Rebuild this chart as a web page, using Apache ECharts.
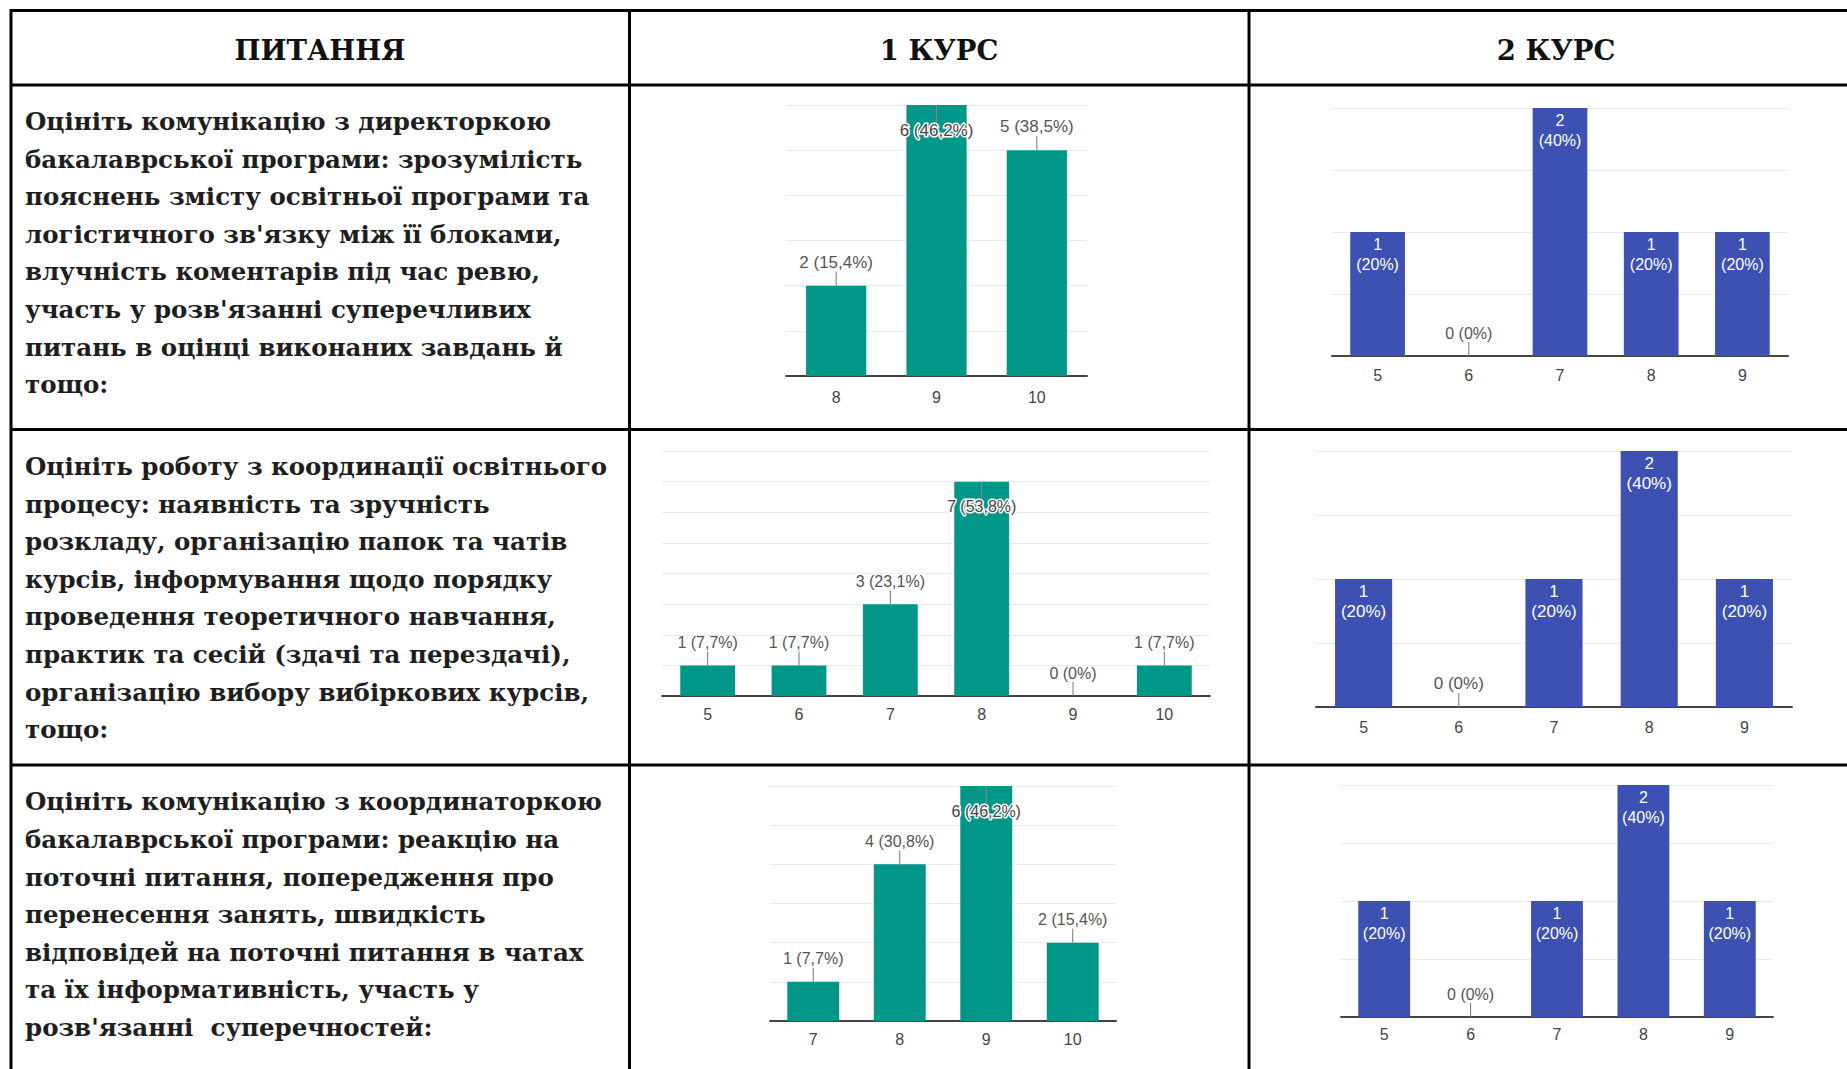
<!DOCTYPE html>
<html><head><meta charset="utf-8">
<script src="https://cdn.jsdelivr.net/npm/echarts@6/dist/echarts.min.js"></script>
<style>html,body{margin:0;padding:0;background:#fff;}#c{width:1847px;height:1069px;}</style>
</head><body><div id="c"></div>
<script>
// ---------- DATA ----------
const headers = ['ПИТАННЯ', '1 КУРС', '2 КУРС'];

const question1Lines = [
  'Оцініть комунікацію з директоркою',
  'бакалаврської програми: зрозумілість',
  'пояснень змісту освітньої програми та',
  "логістичного зв'язку між її блоками,",
  'влучність коментарів під час ревю,',
  "участь у розв'язанні суперечливих",
  'питань в оцінці виконаних завдань й',
  'тощо:'
];
const question2Lines = [
  'Оцініть роботу з координації освітнього',
  'процесу: наявність та зручність',
  'розкладу, організацію папок та чатів',
  'курсів, інформування щодо порядку',
  'проведення теоретичного навчання,',
  'практик та сесій (здачі та перездачі),',
  'організацію вибору вибіркових курсів,',
  'тощо:'
];
const question3Lines = [
  'Оцініть комунікацію з координаторкою',
  'бакалаврської програми: реакцію на',
  'поточні питання, попередження про',
  'перенесення занять, швидкість',
  'відповідей на поточні питання в чатах',
  'та їх інформативність, участь у',
  "розв'язанні  суперечностей:"
];

// Q1
const q1y1Categories = ['8', '9', '10'];
const q1y1Counts = [2, 6, 5];
const q1y1Percents = ['15,4%', '46,2%', '38,5%'];
const q1y1AxisMax = 6, q1y1AxisStep = 1;

const q1y2Categories = ['5', '6', '7', '8', '9'];
const q1y2Counts = [1, 0, 2, 1, 1];
const q1y2Percents = ['20%', '0%', '40%', '20%', '20%'];
const q1y2AxisMax = 2, q1y2AxisStep = 0.5;

// Q2
const q2y1Categories = ['5', '6', '7', '8', '9', '10'];
const q2y1Counts = [1, 1, 3, 7, 0, 1];
const q2y1Percents = ['7,7%', '7,7%', '23,1%', '53,8%', '0%', '7,7%'];
const q2y1AxisMax = 8, q2y1AxisStep = 1;

const q2y2Categories = ['5', '6', '7', '8', '9'];
const q2y2Counts = [1, 0, 1, 2, 1];
const q2y2Percents = ['20%', '0%', '20%', '40%', '20%'];
const q2y2AxisMax = 2, q2y2AxisStep = 0.5;

// Q3
const q3y1Categories = ['7', '8', '9', '10'];
const q3y1Counts = [1, 4, 6, 2];
const q3y1Percents = ['7,7%', '30,8%', '46,2%', '15,4%'];
const q3y1AxisMax = 6, q3y1AxisStep = 1;

const q3y2Categories = ['5', '6', '7', '8', '9'];
const q3y2Counts = [1, 0, 1, 2, 1];
const q3y2Percents = ['20%', '0%', '20%', '40%', '20%'];
const q3y2AxisMax = 2, q3y2AxisStep = 0.5;

// ---------- LAYOUT / STYLE ----------
const TEAL = '#009688';
const BLUE = '#3d51b3';
const SANS = '"Liberation Sans", Arial, sans-serif';
const SERIF = '"DejaVu Serif", serif';

const panels = [
  {cats: q1y1Categories, vals: q1y1Counts, pcts: q1y1Percents, max: q1y1AxisMax, step: q1y1AxisStep,
   color: TEAL, mode: 'outside', grid: {left: 786, top: 105, width: 301, height: 271}, fs: 17, xMargin: 13},
  {cats: q1y2Categories, vals: q1y2Counts, pcts: q1y2Percents, max: q1y2AxisMax, step: q1y2AxisStep,
   color: BLUE, mode: 'inside', grid: {left: 1332, top: 108, width: 456, height: 248}, fs: 16, xMargin: 11},
  {cats: q2y1Categories, vals: q2y1Counts, pcts: q2y1Percents, max: q2y1AxisMax, step: q2y1AxisStep,
   color: TEAL, mode: 'outside', grid: {left: 662, top: 451, width: 548, height: 245}, fs: 16, xMargin: 10},
  {cats: q2y2Categories, vals: q2y2Counts, pcts: q2y2Percents, max: q2y2AxisMax, step: q2y2AxisStep,
   color: BLUE, mode: 'inside', grid: {left: 1316, top: 451, width: 476, height: 256}, fs: 17, xMargin: 12},
  {cats: q3y1Categories, vals: q3y1Counts, pcts: q3y1Percents, max: q3y1AxisMax, step: q3y1AxisStep,
   color: TEAL, mode: 'outside', grid: {left: 770, top: 786, width: 346, height: 235}, fs: 16, xMargin: 10},
  {cats: q3y2Categories, vals: q3y2Counts, pcts: q3y2Percents, max: q3y2AxisMax, step: q3y2AxisStep,
   color: BLUE, mode: 'inside', grid: {left: 1341, top: 785, width: 432, height: 232}, fs: 16, xMargin: 9}
];

const grids = [], xAxes = [], yAxes = [], series = [];

panels.forEach((p, k) => {
  const tallest = Math.max.apply(null, p.vals);
  grids.push(Object.assign({containLabel: false}, p.grid));
  xAxes.push({
    type: 'category', gridIndex: k, data: p.cats,
    axisLine: {show: true, lineStyle: {color: '#444', width: 2}},
    axisTick: {show: false},
    axisLabel: {color: '#444', fontSize: 16, fontFamily: SANS, margin: p.xMargin},
    splitLine: {show: false}
  });
  yAxes.push({
    type: 'value', gridIndex: k, min: 0, max: p.max, interval: p.step,
    axisLine: {show: false}, axisTick: {show: false}, axisLabel: {show: false},
    splitLine: {show: true, lineStyle: {color: '#ebebeb', width: 1}}
  });

  const data = p.vals.map((v, i) => {
    let label;
    if (p.mode === 'outside') {
      if (v === tallest) {
        label = {show: true, position: 'insideTop', distance: 17, color: '#444',
          textBorderColor: '#fff', textBorderWidth: 3,
          fontSize: p.fs, fontFamily: SANS, formatter: v + ' (' + p.pcts[i] + ')'};
      } else {
        label = {show: true, position: 'top', distance: 15, color: '#555',
          fontSize: p.fs, fontFamily: SANS, formatter: v + ' (' + p.pcts[i] + ')'};
      }
    } else {
      if (v === 0) {
        label = {show: true, position: 'top', distance: 15, color: '#555',
          fontSize: p.fs, fontFamily: SANS, formatter: v + ' (' + p.pcts[i] + ')'};
      } else {
        label = {show: true, position: 'insideTop', distance: 2, color: '#fff',
          fontSize: p.fs, lineHeight: 20, fontFamily: SANS, align: 'center',
          formatter: v + '\n(' + p.pcts[i] + ')'};
      }
    }
    return {value: v, label: label};
  });

  series.push({
    type: 'bar', xAxisIndex: k, yAxisIndex: k, data: data,
    barWidth: '60%', itemStyle: {color: p.color}, silent: true, animation: false
  });

  // leader lines from bar end to its label
  const leaders = [];
  p.vals.forEach((v, i) => {
    if (p.mode === 'outside') {
      leaders.push([i, v, v === tallest ? 1 : -1]);
    } else if (v === 0) {
      leaders.push([i, v, -1]);
    }
  });
  series.push({
    type: 'custom', xAxisIndex: k, yAxisIndex: k, data: leaders, z: 5, silent: true, animation: false,
    renderItem: function (params, api) {
      const pt = api.coord([api.value(0), api.value(1)]);
      const dir = api.value(2);
      const len = dir > 0 ? 18 : 14;
      return {type: 'line', shape: {x1: pt[0], y1: pt[1], x2: pt[0], y2: pt[1] + dir * len},
        style: {stroke: dir > 0 ? '#888' : '#777', lineWidth: 1}};
    }
  });
});

// ---------- TABLE ----------
const LW = 3;
const tableLines = [
  [10, 10.5, 1847, 10.5], [10, 85, 1847, 85], [10, 429.5, 1847, 429.5], [10, 765, 1847, 765],
  [11, 9, 11, 1069], [629.5, 9, 629.5, 1069], [1249, 9, 1249, 1069]
];
const graphics = tableLines.map(l => ({
  type: 'line', silent: true, z: 100,
  shape: {x1: l[0], y1: l[1], x2: l[2], y2: l[3]},
  style: {stroke: '#000', lineWidth: LW}
}));
const headerX = [320, 939, 1556];
headers.forEach((h, i) => graphics.push({
  type: 'text', silent: true, z: 100, x: headerX[i], y: 49.5,
  style: {text: h, fill: '#111', fontFamily: SERIF, fontWeight: 'bold', fontSize: 27.5,
    align: 'center', verticalAlign: 'middle'}
}));
const LH = 37.6;
[[question1Lines, 121.5], [question2Lines, 466.5], [question3Lines, 802]].forEach(q => {
  graphics.push({
    type: 'text', silent: true, z: 100, x: 25, y: q[1] - LH / 2,
    style: {text: q[0].join('\n'), fill: '#1e1e1e', fontFamily: SERIF, fontWeight: 'bold',
      fontSize: 24.5, lineHeight: LH, align: 'left', verticalAlign: 'top'}
  });
});

const chart = echarts.init(document.getElementById('c'), null, {renderer: 'svg'});
chart.setOption({
  animation: false,
  backgroundColor: '#fff',
  grid: grids, xAxis: xAxes, yAxis: yAxes, series: series,
  graphic: graphics
});
</script></body></html>
